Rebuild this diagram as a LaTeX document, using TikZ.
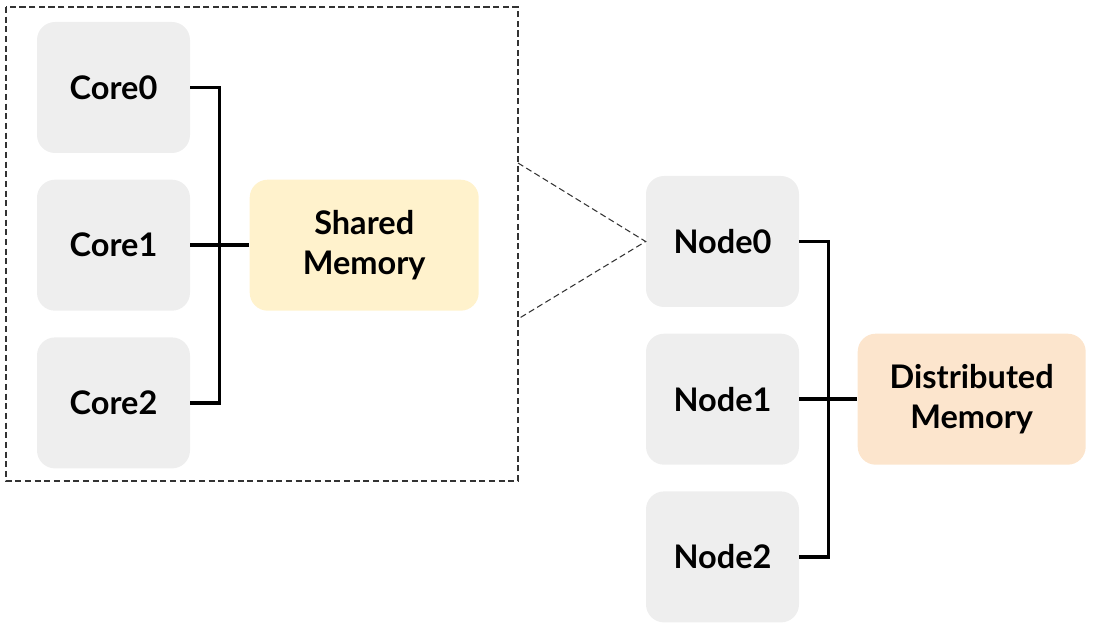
\documentclass[tikz,border=0pt]{standalone}
\usepackage{fontspec}
\setmainfont{Lato}
\usepackage{xcolor}
\definecolor{boxGray}{HTML}{EEEEEE}
\definecolor{sharedFill}{HTML}{FFF2CC}
\definecolor{distFill}{HTML}{FCE5CD}
\definecolor{frameDark}{HTML}{333333}
\usepackage{tikz}
\usetikzlibrary{positioning,calc}
\tikzset{%
  unitBox/.style={%
    rectangle,
    rounded corners=0.36cm,
    fill=boxGray,
    minimum width=3.06cm,
    minimum height=2.62cm,
    align=center,
    font=\fontsize{18.5}{22.8}\selectfont\bfseries
  },
  memBox/.style={%
    unitBox,
    minimum width=4.58cm
  },
  busLine/.style={%
    line width=2pt,
    color=black
  },
  stemLine/.style={%
    line width=2.5pt,
    color=black
  },
  frameLine/.style={%
    line width=0.6pt,
    color=frameDark,
    dash pattern=on 3.5pt off 2pt
  }
}

\begin{document}
\begin{tikzpicture}
  \useasboundingbox (0,0) rectangle (22.04,-12.68);

  % shared memory side
  \node[unitBox] (core0) at (2.27,-1.75) {Core0};
  \node[unitBox, below=0.52cm of core0] (core1) {Core1};
  \node[unitBox, below=0.52cm of core1] (core2) {Core2};
  \node[memBox, fill=sharedFill, right=1.18cm of core1] (shared) {Shared\\Memory};

  \draw[busLine] (core0.east) -- ++(0.58,0) |- (core2.east);
  \draw[busLine] (core1.east) -- (shared.west);
  \draw[stemLine] ($(core1.east)+(0.58,0)$) -- (shared.west);

  % dashed frame round the cores
  \coordinate (frameNW) at (0.12,-0.14);
  \coordinate (frameSE) at (10.36,-9.62);
  \coordinate (zoomTop) at (10.36,-3.26);
  \coordinate (zoomBot) at (10.36,-6.38);
  \draw[frameLine] (frameNW) rectangle (frameSE);

  % distributed memory side
  \node[unitBox] (node0) at (14.45,-4.83) {Node0};
  \node[unitBox, below=0.52cm of node0] (node1) {Node1};
  \node[unitBox, below=0.52cm of node1] (node2) {Node2};
  \node[memBox, minimum width=4.56cm, fill=distFill, right=1.16cm of node1] (dist) {Distributed\\Memory};

  \draw[busLine] (node0.east) -- ++(0.58,0) |- (node2.east);
  \draw[busLine] (node1.east) -- (dist.west);
  \draw[stemLine] ($(node1.east)+(0.58,0)$) -- (dist.west);

  \draw[frameLine] (zoomTop) -- (node0.west) -- (zoomBot);
\end{tikzpicture}
\end{document}
